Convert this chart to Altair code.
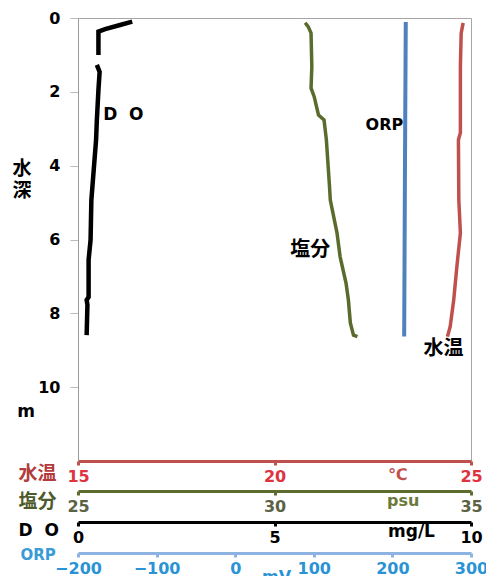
import altair as alt
import pandas as pd

# ---- data ----
do_depth_1 = [0.10, 0.19, 0.30, 0.37, 1.00]
do_value_1 = [1.38, 1.07, 0.69, 0.52, 0.52]
do_depth_2 = [1.27, 1.46, 1.95, 2.76, 3.30, 3.98, 4.93, 6.01, 6.55, 7.56, 7.64, 7.77, 8.18, 8.59]
do_value_2 = [0.48, 0.55, 0.52, 0.48, 0.46, 0.41, 0.34, 0.32, 0.27, 0.27, 0.22, 0.24, 0.23, 0.22]

sal_depth = [0.13, 0.24, 0.41, 1.32, 1.90, 2.13, 2.63, 2.76, 3.30, 4.57, 4.93, 5.82, 6.47, 7.18, 7.64, 8.26, 8.59, 8.63]
sal_value = [30.78, 30.86, 30.93, 30.95, 30.93, 31.01, 31.12, 31.26, 31.32, 31.40, 31.42, 31.59, 31.67, 31.82, 31.88, 31.93, 32.01, 32.11]

temp_depth = [0.13, 0.41, 1.32, 3.11, 3.30, 4.93, 5.82, 6.74, 7.64, 8.36, 8.63]
temp_value = [24.80, 24.75, 24.73, 24.73, 24.68, 24.69, 24.73, 24.64, 24.56, 24.47, 24.40]

orp_depth = [0.11, 4.00, 8.63]
orp_value = [217, 216, 215]

depth_ticks = [0, 2, 4, 6, 8, 10]
temp_ticks = [15, 20, 25]
sal_ticks = [25, 30, 35]
do_ticks = [0, 5, 10]
orp_ticks = [-200, -100, 0, 100, 200, 300]

FONT = "DejaVu Sans"
CJK = "Noto Sans CJK JP"

yscale = alt.Scale(domain=[0, 12], reverse=True, nice=False, zero=False)
yaxis = alt.Axis(values=depth_ticks, title=["水", "深"], titleAngle=0, titleAlign="left",
                 titleBaseline="top", titleX=-66, titleY=141, titleFont=CJK, titleFontSize=19,
                 titleFontWeight="bold", titleColor="black", titleLineHeight=22,
                 labelFont=FONT, labelFontSize=16, labelFontWeight="bold", labelColor="black",
                 labelPadding=10, tickSize=8, tickColor="#BBBBBB", domainColor="#9A9A9A", grid=False)
Y = alt.Y("depth:Q", scale=yscale, axis=yaxis)


def xaxis(values, color, labelcolor, offset, title, tcolor, tfont, tsize, ty, tx=-60):
    return alt.Axis(orient="bottom", values=values, offset=offset, domainColor=color, domainWidth=3,
                    tickColor=color, tickWidth=3, tickSize=4, labelColor=labelcolor, labelFont=FONT,
                    labelFontSize=16, labelFontWeight="bold", labelPadding=3, grid=False,
                    labelFlush=False, title=title, titleX=tx, titleY=ty, titleAngle=0,
                    titleAlign="left", titleBaseline="middle", titleColor=tcolor, titleFont=tfont,
                    titleFontSize=tsize, titleFontWeight="bold")


def label_text(text, value, depth, X, align, size, font=FONT, color="black"):
    df = pd.DataFrame({"value": [value], "depth": [depth], "label": [text]})
    return alt.Chart(df).mark_text(align=align, baseline="middle", font=font, fontSize=size,
                                   fontWeight="bold", color=color).encode(
        x=X, y=Y, text="label:N")


def unit_text(text, px, py, color, size, font=FONT, align="left"):
    df = pd.DataFrame({"label": [text]})
    return alt.Chart(df).mark_text(align=align, baseline="alphabetic", font=font, fontSize=size,
                                   fontWeight="bold", color=color).encode(
        x=alt.value(px), y=alt.value(py), text="label:N")


# temperature
TX = alt.X("value:Q", scale=alt.Scale(domain=[15, 25], nice=False, zero=False),
           axis=xaxis(temp_ticks, "#C0504D", "#DE3340", 0, "水温", "#B23C3C", CJK, 19, 12))
temp_df = pd.DataFrame({"depth": temp_depth, "value": temp_value})
temp_layer = alt.layer(
    alt.Chart(temp_df).mark_line(color="#C0504D", strokeWidth=3.5).encode(x=TX, y=Y, order="depth:Q"),
    label_text("水温", 23.79, 8.97, TX, "left", 20, CJK),
    unit_text("℃", 310, 462, "#C0504D", 16),
    unit_text("m", -52, 399, "black", 17, align="center"),
)

# salinity
SX = alt.X("value:Q", scale=alt.Scale(domain=[25, 35], nice=False, zero=False),
           axis=xaxis(sal_ticks, "#5E6B2E", "#5C6244", 30, "塩分", "#4E5A2A", CJK, 19, 10))
sal_df = pd.DataFrame({"depth": sal_depth, "value": sal_value})
sal_layer = alt.layer(
    alt.Chart(sal_df).mark_line(color="#5B6B2C", strokeWidth=3.5).encode(x=SX, y=Y, order="depth:Q"),
    label_text("塩分", 31.42, 6.28, SX, "right", 20, CJK),
    unit_text("psu", 309, 488, "#6B7A3A", 16),
)

# DO
DX = alt.X("value:Q", scale=alt.Scale(domain=[0, 10], nice=False, zero=False),
           axis=xaxis(do_ticks, "black", "black", 61, "D\u00a0\u00a0O", "black", FONT, 17, 8))
do_df = pd.DataFrame({
    "depth": do_depth_1 + do_depth_2,
    "value": do_value_1 + do_value_2,
    "seg": ["a"] * len(do_depth_1) + ["b"] * len(do_depth_2),
})
do_layer = alt.layer(
    alt.Chart(do_df).mark_line(color="black", strokeWidth=4.5).encode(
        x=DX, y=Y, detail="seg:N", order="depth:Q"),
    label_text("D\u00a0\u00a0O", 0.64, 2.63, DX, "left", 17),
    unit_text("mg/L", 310, 519, "black", 17),
)

# ORP
OX = alt.X("value:Q", scale=alt.Scale(domain=[-200, 300], nice=False, zero=False),
           axis=xaxis(orp_ticks, "#8DB3E2", "#2A93D5", 92, "ORP", "#3A9BD5", FONT, 15, 1, tx=-58))
orp_df = pd.DataFrame({"depth": orp_depth, "value": orp_value})
orp_layer = alt.layer(
    alt.Chart(orp_df).mark_line(color="#4F81BD", strokeWidth=4).encode(x=OX, y=Y, order="depth:Q"),
    label_text("ORP", 213.8, 2.9, OX, "right", 16),
    unit_text("mV", 184, 564, "#2A93D5", 16),
)

chart = alt.layer(temp_layer, sal_layer, do_layer, orp_layer).resolve_scale(
    x="independent"
).properties(
    width=393, height=443,
    autosize=alt.AutoSizeParams(type="none"),
    padding={"left": 70, "top": 10, "right": 15, "bottom": 115},
).configure_view(stroke="#A6A6A6", strokeWidth=1)

chart.save("out.html", embed_options={"renderer": "svg", "actions": False})
